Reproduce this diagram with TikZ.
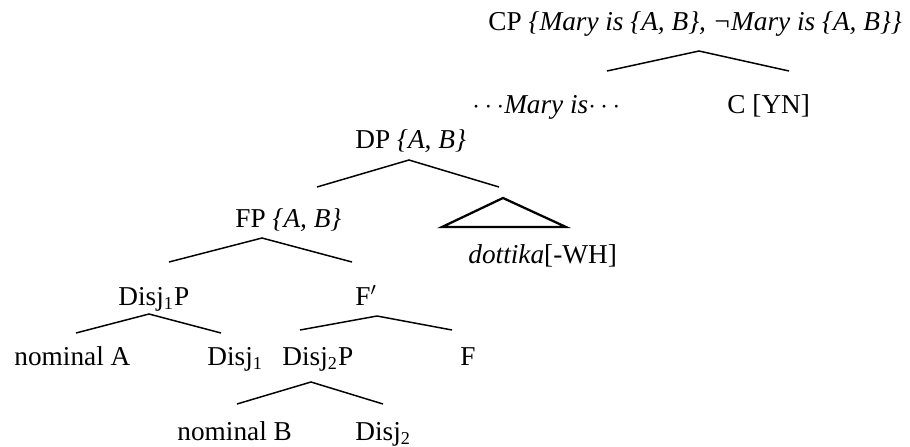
\documentclass[tikz,border=0pt]{standalone}
\usepackage{fontspec}
\setmainfont{Liberation Serif}
\tikzset{
  syn label/.style={font=\fontsize{12}{14}\selectfont, inner sep=0pt, anchor=base west},
  syn branch/.style={line width=0.65pt},
  syn roof/.style={line width=1pt, line join=miter}
}
\begin{document}
\begin{tikzpicture}[x=0.44pt, y=-0.44pt]
  \useasboundingbox (0,0) rectangle (910,446);
  % labels, placed on their baselines
  \node[syn label] (cp) at (488,30) {CP \textit{\{Mary is \{A, B\}, ¬Mary is \{A, B\}\}}};
  \node[syn label] (mary) at (472,113) {$\cdots$\textit{Mary is}$\cdots$};
  \node[syn label] (cyn) at (727,113) {C [YN]};
  \node[syn label] (dp) at (355,148) {DP \textit{\{A, B\}}};
  \node[syn label] (fp) at (235,227) {FP \textit{\{A, B\}}};
  \node[syn label] (dottika) at (468,263) {\textit{dottika}[-WH]};
  \node[syn label] (disjap) at (118,305) {Disj\textsubscript{1}P};
  \node[syn label] (fbar) at (355,305) {F$'$};
  \node[syn label] (noma) at (14,365) {nominal A};
  \node[syn label] (disja) at (207,365) {Disj\textsubscript{1}};
  \node[syn label] (disjbp) at (282,365) {Disj\textsubscript{2}P};
  \node[syn label] (f) at (460,365) {F};
  \node[syn label] (nomb) at (177,440) {nominal B};
  \node[syn label] (disjb) at (355,440) {Disj\textsubscript{2}};
  % branches: name/apex x/apex y/left x/right x/foot y
  \foreach \n/\ax/\ay/\lx/\rx/\fy in {cp/699/51/607/789/71, dp/409/160/317/499/187,
      fp/262/238/169/352/262, disjap/149/314/76/221/333,
      fbar/377/316/300/452/330, disjbp/311/382/237/383/404} {
    \coordinate (\n-top) at (\ax,\ay);
    \coordinate (\n-l) at (\lx,\fy);
    \coordinate (\n-r) at (\rx,\fy);
    \draw[syn branch] (\n-l) -- (\n-top) -- (\n-r);
  }
  % roof over the unanalysed DP part
  \coordinate (roof-top) at (503,198);
  \coordinate (roof-l) at (442,227);
  \coordinate (roof-r) at (566,227);
  \draw[syn roof] (roof-l) -- (roof-top) -- (roof-r) -- cycle;
\end{tikzpicture}
\end{document}
